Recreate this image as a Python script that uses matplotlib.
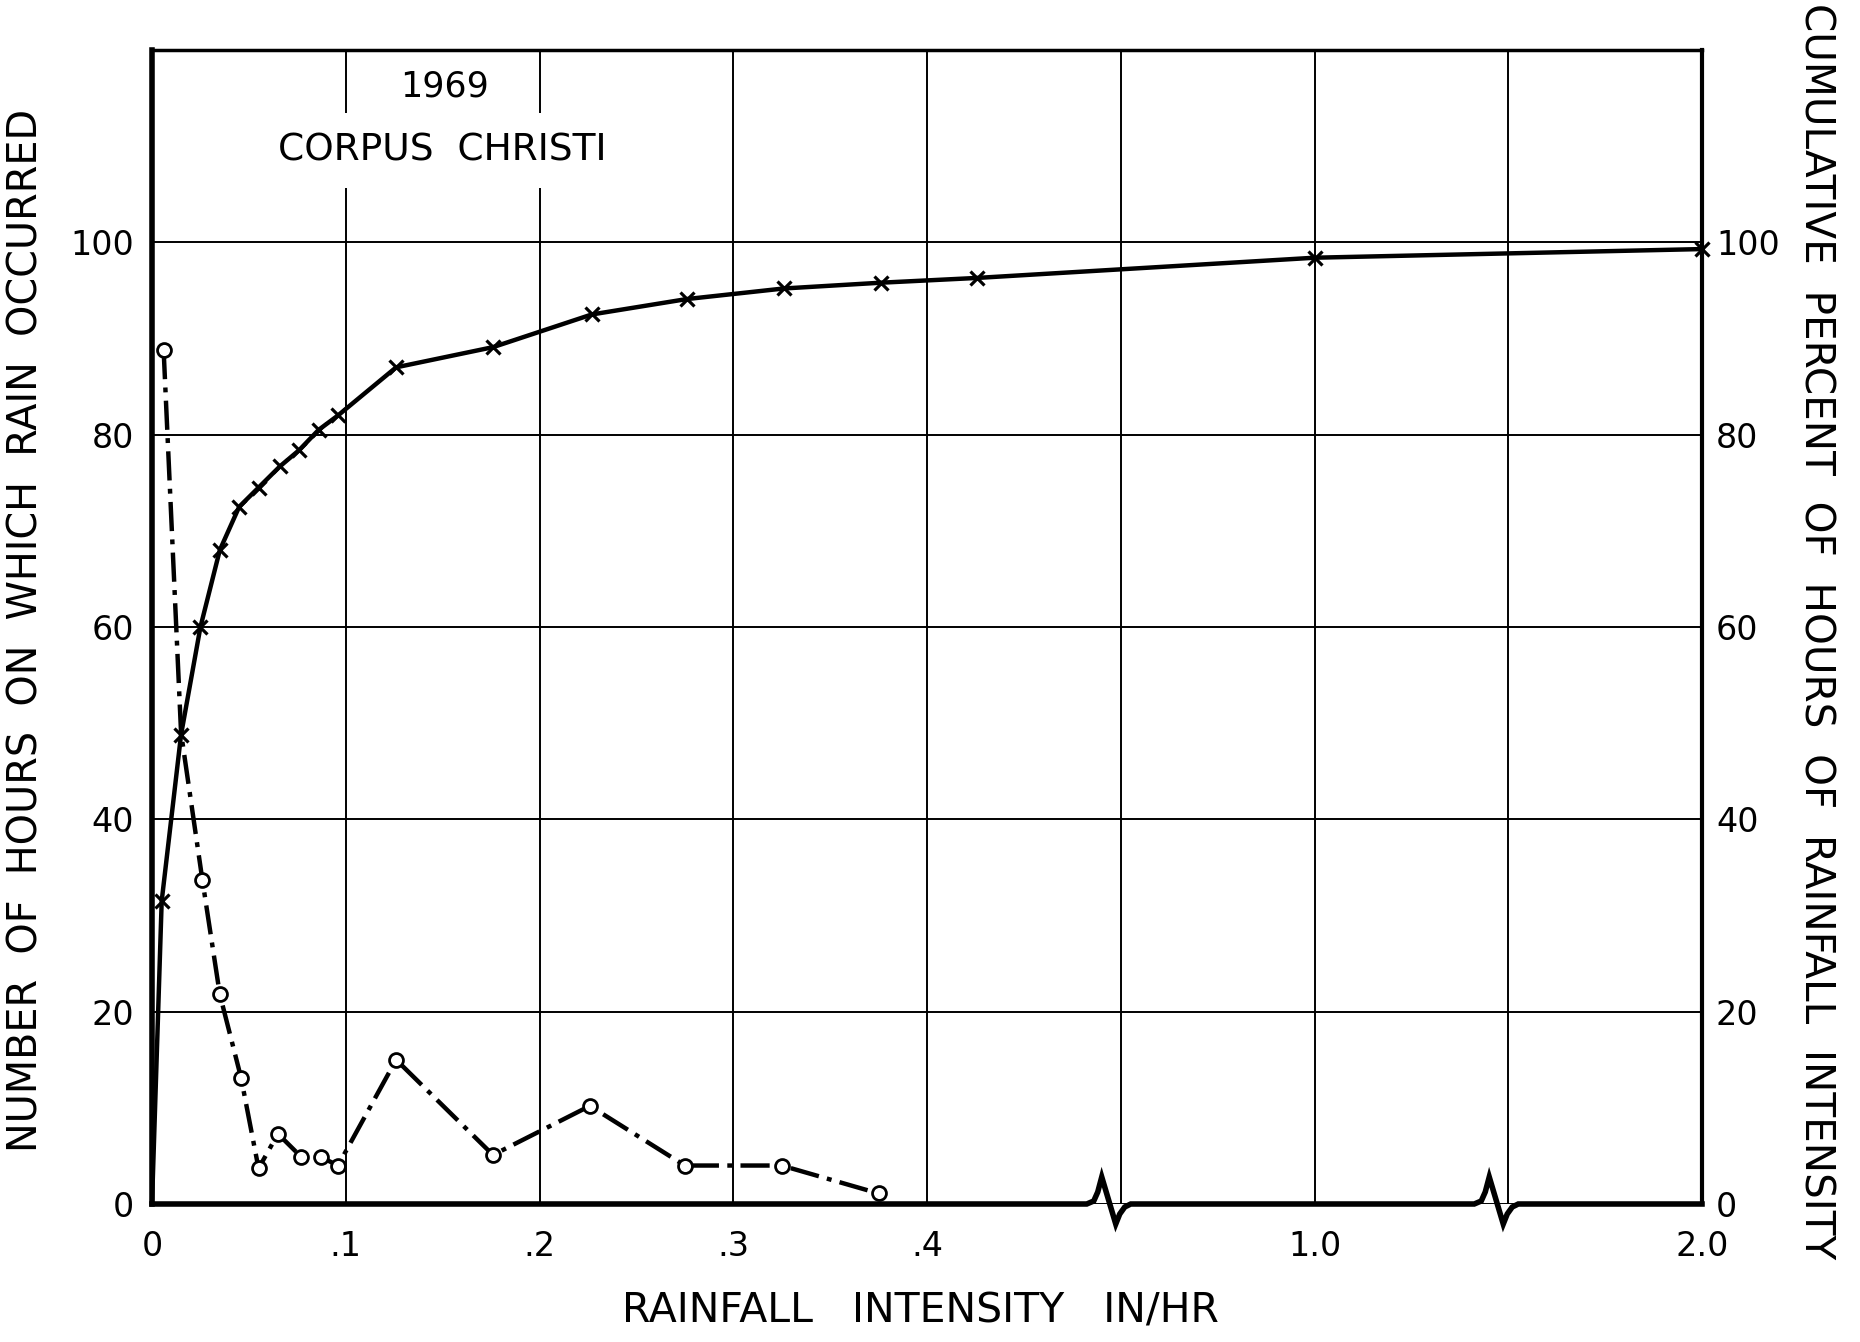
import matplotlib
matplotlib.use("Agg")
import matplotlib.pyplot as plt
import numpy as np
from matplotlib.lines import Line2D

# rainfall intensity (in/hr) and number of hours for each class (circles)
hours_x = [0.006, 0.015, 0.026, 0.035, 0.046, 0.055, 0.065, 0.077, 0.087, 0.096,
           0.126, 0.176, 0.226, 0.275, 0.325, 0.375]
hours_y = [88.8, 49.0, 33.7, 21.8, 13.1, 3.7, 7.3, 4.9, 4.9, 4.0,
           15.0, 5.1, 10.2, 4.0, 4.0, 1.1]

# cumulative percent of hours (x marks), curve starts at the origin
cum_x = [0.0, 0.005, 0.015, 0.025, 0.035, 0.045, 0.055, 0.066, 0.076, 0.086, 0.096,
         0.126, 0.176, 0.227, 0.276, 0.326, 0.376, 0.426, 1.0, 2.0]
cum_y = [0.0, 31.5, 48.8, 60.0, 68.0, 72.5, 74.5, 76.7, 78.4, 80.5, 82.0,
         87.0, 89.1, 92.5, 94.1, 95.2, 95.8, 96.3, 98.4, 99.3]

x_ticks = [0, 0.1, 0.2, 0.3, 0.4, 0.5, 1.0, 1.5, 2.0]
x_tick_labels = ["0", ".1", ".2", ".3", ".4", "", "1.0", "", "2.0"]
y_ticks = [0, 20, 40, 60, 80, 100]
y_tick_labels = ["0", "20", "40", "60", "80", "100"]


def forward(x):
    # broken axis: 0-0.5 linear, then 0.5-1.0 and 1.0-2.0 squeezed
    x = np.asarray(x, dtype=float)
    return np.where(x <= 0.5, x * 10, np.where(x <= 1.0, 5 + (x - 0.5) * 2, 6 + (x - 1.0) * 2))


def inverse(d):
    d = np.asarray(d, dtype=float)
    return np.where(d <= 5, d / 10, np.where(d <= 6, 0.5 + (d - 5) / 2, 1.0 + (d - 6) / 2))


plt.rcParams["font.family"] = ["DejaVu Sans"]
plt.rcParams["lines.scale_dashes"] = False

W, H = 1860, 1342
fig = plt.figure(figsize=(W / 100, H / 100), dpi=100)
L, R, B, T = 152 / W, 1702 / W, 1 - 1204 / H, 1 - 50 / H
ax = fig.add_axes([L, B, R - L, T - B])

ax.set_xscale("function", functions=(forward, inverse))
ax.set_xlim(0, 2.0)
ax.set_ylim(0, 120)
ax.set_xticks(x_ticks)
ax.set_xticklabels(x_tick_labels)
ax.set_yticks(y_ticks)
ax.set_yticklabels(y_tick_labels)
ax.tick_params(axis="both", length=0, labelsize=24, colors="black")
ax.tick_params(axis="x", pad=19)
ax.tick_params(axis="y", pad=13)
ax.grid(True, color="black", linewidth=1.4)
ax.set_axisbelow(True)

ax.spines["left"].set_linewidth(4)
ax.spines["top"].set_linewidth(2.5)
ax.spines["right"].set_linewidth(3)
ax.spines["bottom"].set_visible(False)

# right-hand axis for the cumulative percent
ax2 = ax.twinx()
ax2.set_ylim(0, 120)
ax2.set_yticks(y_ticks)
ax2.set_yticklabels(y_tick_labels)
ax2.tick_params(axis="y", length=0, labelsize=24, pad=10)
for s in ax2.spines.values():
    s.set_visible(False)

# number of hours (dash-dot, open circles)
ax.plot(hours_x, hours_y, color="black", linewidth=3.2,
        linestyle=(0, (21, 6, 3.5, 6)), dash_capstyle="butt",
        marker="o", markersize=10, markerfacecolor="white",
        markeredgecolor="black", markeredgewidth=2,
        markevery=[i for i in range(len(hours_x)) if i != 1], zorder=3)

# cumulative percent (solid, x marks)
ax.plot(cum_x, cum_y, color="black", linewidth=3.2, solid_capstyle="butt",
        marker="x", markersize=10, markeredgewidth=2.3,
        markevery=list(range(1, len(cum_x))), zorder=4, clip_on=False)

# bottom spine with break symbols
aw, ah = R * W - L * W, T * H - B * H
bx, by = [0.0], [0.0]
for xb in (5 / 8, 7 / 8):
    for dx, dy in [(-34, 0), (-27, 3), (-23, 12), (-19, 27), (-5, -20),
                   (-1, -10), (4, -3), (10, 0)]:
        bx.append(xb + dx / aw)
        by.append(dy / ah)
bx.append(1.0)
by.append(0.0)
ax.add_line(Line2D(bx, by, transform=ax.transAxes, color="black", linewidth=4,
                   solid_joinstyle="miter", clip_on=False, zorder=5))

# title block
ax.text(0.189, 0.968, "1969", transform=ax.transAxes, ha="center", va="center",
        fontsize=25, zorder=6)
ax.text(0.187, 0.9125, "CORPUS  CHRISTI", transform=ax.transAxes, ha="center",
        va="center", fontsize=27, zorder=6,
        bbox=dict(facecolor="white", edgecolor="none", pad=14))

fig.text(0.4946, 0.023, "RAINFALL   INTENSITY   IN/HR", ha="center", va="center",
         fontsize=29.5)
fig.text(0.014, 0.530, "NUMBER  OF  HOURS  ON  WHICH  RAIN  OCCURRED", rotation=90,
         ha="center", va="center", fontsize=28.6)
fig.text(0.976, 0.530, "CUMULATIVE  PERCENT  OF  HOURS  OF  RAINFALL  INTENSITY",
         rotation=-90, ha="center", va="center", fontsize=29.2)

fig.savefig("out.png", dpi=100, facecolor="white")
